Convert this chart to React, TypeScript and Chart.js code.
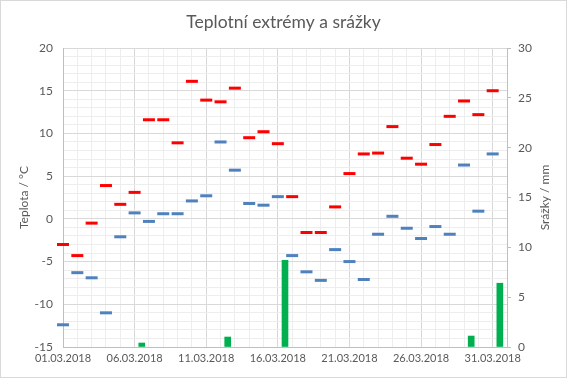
import React, { useEffect, useRef } from "react";
import { Chart, registerables } from "chart.js";

Chart.register(...registerables);

const dates = [
  "01.03.2018","02.03.2018","03.03.2018","04.03.2018","05.03.2018","06.03.2018","07.03.2018","08.03.2018",
  "09.03.2018","10.03.2018","11.03.2018","12.03.2018","13.03.2018","14.03.2018","15.03.2018","16.03.2018",
  "17.03.2018","18.03.2018","19.03.2018","20.03.2018","21.03.2018","22.03.2018","23.03.2018","24.03.2018",
  "25.03.2018","26.03.2018","27.03.2018","28.03.2018","29.03.2018","30.03.2018","31.03.2018",
];

const tMax = [
  -3.0, -4.3, -0.5, 3.9, 1.7, 3.1, 11.6, 11.6, 8.9, 16.1, 13.9, 13.7, 15.3, 9.5, 10.2, 8.8,
  2.6, -1.6, -1.6, 1.4, 5.3, 7.6, 7.7, 10.8, 7.1, 6.4, 8.7, 12.0, 13.8, 12.2, 15.0,
];

const tMin = [
  -12.4, -6.3, -6.9, -11.0, -2.1, 0.7, -0.3, 0.6, 0.6, 2.1, 2.7, 9.0, 5.7, 1.8, 1.6, 2.6,
  -4.3, -6.2, -7.2, -3.6, -5.0, -7.1, -1.8, 0.3, -1.1, -2.3, -0.9, -1.8, 6.3, 0.9, 7.6,
];

const precip = [
  0, 0, 0, 0, 0, 0.4, 0, 0, 0, 0, 0, 1.0, 0, 0, 0, 8.7,
  0, 0, 0, 0, 0, 0, 0, 0, 0, 0, 0, 0, 1.1, 0, 6.4,
];

const titleText = "Teplotní extrémy a srážky";
const leftTitle = "Teplota / °C";
const rightTitle = "Srážky / mm";

const TEXT = "#595959";
const FONT = "Lato";

export default function App() {
  const ref = useRef<HTMLCanvasElement>(null);

  useEffect(() => {
    const canvas = ref.current;
    if (!canvas) return;

    const borderPlugin = {
      id: "outerBorder",
      beforeDraw(chart: any) {
        const ctx = chart.ctx;
        ctx.save();
        ctx.fillStyle = "#ffffff";
        ctx.fillRect(0, 0, chart.width, chart.height);
        ctx.strokeStyle = "#D9D9D9";
        ctx.lineWidth = 1;
        ctx.strokeRect(0.5, 0.5, chart.width - 1, chart.height - 1);
        ctx.restore();
      },
      afterDraw(chart: any) {
        const ctx = chart.ctx;
        const s = chart.scales.y2;
        const a = chart.chartArea;
        ctx.save();
        ctx.fillStyle = TEXT;
        ctx.font = `12px ${FONT}`;
        ctx.textAlign = "center";
        ctx.textBaseline = "middle";
        ctx.translate(s.right - 22, (a.top + a.bottom) / 2);
        ctx.rotate(-Math.PI / 2);
        ctx.fillText(rightTitle, 0, 0);
        ctx.restore();
      },
    };

    const gridColor = (c: any) => (c.tick && c.tick.value % 5 === 0 ? "#D9D9D9" : "#EDEDED");

    const chart = new Chart(canvas, {
      type: "line",
      data: {
        datasets: [
          {
            type: "line",
            label: "max",
            data: tMax.map((v, i) => ({ x: i, y: v })),
            showLine: false,
            pointStyle: "line",
            pointRadius: 6,
            pointBorderWidth: 3,
            borderColor: "#FF0000",
            backgroundColor: "#FF0000",
            yAxisID: "y",
            clip: false as any,
            order: 1,
          },
          {
            type: "line",
            label: "min",
            data: tMin.map((v, i) => ({ x: i, y: v })),
            showLine: false,
            pointStyle: "line",
            pointRadius: 6,
            pointBorderWidth: 3,
            borderColor: "#4F81BD",
            backgroundColor: "#4F81BD",
            yAxisID: "y",
            clip: false as any,
            order: 2,
          },
          {
            type: "bar",
            label: "srážky",
            data: precip.map((v, i) => ({ x: i + 0.5, y: v > 0 ? v : null })),
            backgroundColor: "#00B050",
            borderWidth: 0,
            barThickness: 6,
            yAxisID: "y2",
            order: 3,
          } as any,
        ],
      },
      options: {
        responsive: false,
        animation: false,
        events: [],
        layout: { padding: 0 },
        plugins: {
          legend: { display: false },
          tooltip: { enabled: false },
          title: {
            display: true,
            text: titleText,
            color: TEXT,
            font: { family: FONT, size: 17.5, weight: "normal" },
            padding: { top: 12, bottom: 15 },
          },
        },
        scales: {
          x: {
            type: "linear",
            min: 0,
            max: 31,
            offset: false,
            afterFit: (s: any) => { s.height = 31; },
            ticks: {
              stepSize: 1,
              autoSkip: false,
              maxRotation: 0,
              color: TEXT,
              font: { family: FONT, size: 11 },
              padding: 5,
              callback: (v: any) => (Number(v) % 5 === 0 && dates[Number(v)] ? dates[Number(v)] : ""),
            },
            grid: {
              drawTicks: false,
              offset: false,
              color: gridColor,
            },
            border: { color: "#BFBFBF" },
          },
          y: {
            type: "linear",
            position: "left",
            min: -15,
            max: 20,
            afterFit: (s: any) => { s.width = 63; },
            ticks: {
              stepSize: 1,
              autoSkip: false,
              color: TEXT,
              font: { family: FONT, size: 12 },
              padding: 10,
              callback: (v: any) => (Number(v) % 5 === 0 ? String(v) : ""),
            },
            grid: {
              drawTicks: false,
              color: gridColor,
            },
            border: { color: "#BFBFBF" },
            title: {
              display: true,
              text: leftTitle,
              color: TEXT,
              font: { family: FONT, size: 12 },
              padding: { top: 17, bottom: 0 },
            },
          },
          y2: {
            type: "linear",
            position: "right",
            min: 0,
            max: 30,
            afterFit: (s: any) => { s.width = 60; },
            ticks: {
              stepSize: 5,
              autoSkip: false,
              color: TEXT,
              font: { family: FONT, size: 12 },
              padding: 7,
            },
            grid: {
              drawOnChartArea: false,
              drawTicks: true,
              tickLength: 4,
              color: "#BFBFBF",
            },
            border: { color: "#BFBFBF" },
          },
        },
      },
      plugins: [borderPlugin],
    } as any);

    return () => chart.destroy();
  }, []);

  return (
    <div style={{ position: "absolute", left: 0, top: 0, width: 567, height: 378 }}>
      <canvas ref={ref} width={567} height={378} style={{ width: 567, height: 378 }} />
    </div>
  );
}
